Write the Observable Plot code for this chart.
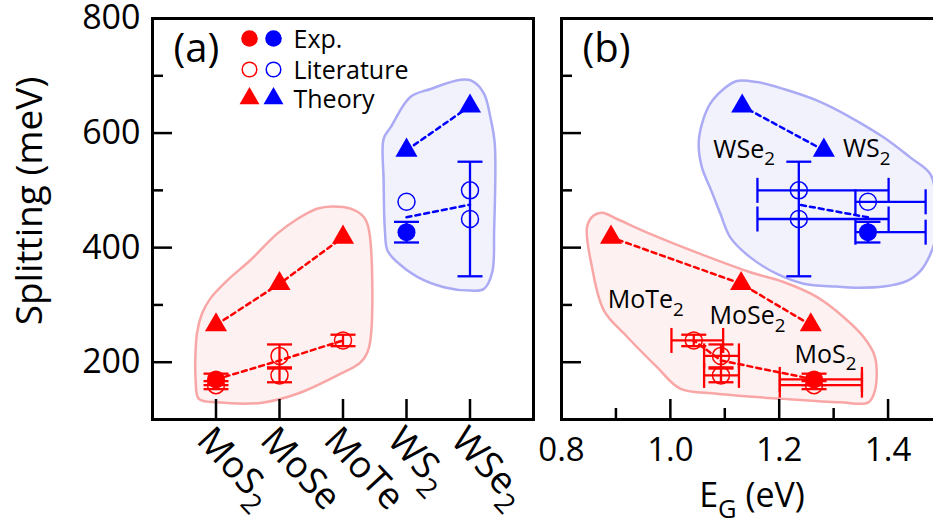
<!DOCTYPE html>
<html>
<head>
<meta charset="utf-8">
<script src="https://cdn.jsdelivr.net/npm/d3@7"></script>
<script src="https://cdn.jsdelivr.net/npm/@observablehq/plot@0.6"></script>
<style>
  html, body { margin: 0; padding: 0; background: #fff; }
  #fig { position: relative; width: 933px; height: 522px; overflow: hidden; font-family: "Open Sans", sans-serif; }
  #fig svg { position: absolute; left: 0; top: 0; }
</style>
</head>
<body>
<div id="fig"></div>
<script>
// Spin–orbit splitting of monolayer TMDs: (a) by compound, (b) against band gap E_G.

const compounds = ["MoS2", "MoSe2", "MoTe2", "WS2", "WSe2"];
const compoundTicks = ["MoS_2", "MoSe", "MoTe", "WS_2", "WSe_2"];

// Theory (triangles)
const theoryCompound = ["MoS2", "MoSe2", "MoTe2", "WS2", "WSe2"];
const theorySplitting = [265, 337, 418, 570, 647];
const theoryGap = [1.258, 1.130, 0.891, 1.282, 1.132];

// This work (filled circles)
const expCompound = ["MoS2", "WS2"];
const expSplitting = [170, 427];
const expError = [10, 18];
const expGap = [1.264, 1.363];
const expGapLow = [1.201, 1.340];
const expGapHigh = [1.352, 1.469];

// Literature (open circles)
const litCompound = ["MoS2", "MoSe2", "MoSe2", "MoTe2", "WS2", "WSe2", "WSe2"];
const litSplitting = [160, 211, 177, 238, 480, 500, 450];
const litError = [7, 20, 12, 10, 0, 0, 100];
const litGap = [1.264, 1.093, 1.093, 1.043, 1.363, 1.236, 1.236];
const litGapLow = [1.201, 1.062, 1.062, 1.002, 1.340, 1.160, 1.160];
const litGapHigh = [1.352, 1.126, 1.126, 1.097, 1.469, 1.401, 1.401];

// Dashed guide through the measured values
const trendCompound = ["MoS2", "MoSe2", "MoTe2", "WS2", "WSe2"];
const trendSplitting = [170, 203, 238, 453, 475];
const trendGap = [1.264, 1.093, 1.043, 1.363, 1.236];

// Compound labels in panel (b)
const gapLabelText = ["WSe_2", "WS_2", "MoTe_2", "MoSe_2", "MoS_2"];
const gapLabelX = [1.079, 1.317, 0.885, 1.072, 1.228];
const gapLabelY = [571, 572, 308, 280, 213];

// Shaded zones: [x, splitting]
const moZoneA = [[-0.22, 285], [-0.09, 311], [0.18, 343], [0.54, 378], [0.96, 424], [1.28, 450], [1.59, 468], [1.83, 472], [2.12, 468], [2.33, 453], [2.41, 430], [2.41, 226], [2.28, 200], [1.91, 177], [1.28, 145], [0.70, 129], [0.02, 130], [-0.27, 136], [-0.32, 168], [-0.30, 250]];
const wZoneA = [[2.64, 590], [2.75, 610], [3.06, 663], [3.38, 677], [3.85, 693], [4.03, 691], [4.22, 669], [4.32, 628], [4.39, 581], [4.38, 430], [4.35, 357], [4.22, 328], [4.01, 325], [3.59, 331], [3.17, 349], [2.85, 375], [2.70, 395], [2.66, 430], [2.64, 517]];
const moZoneB = [[0.859, 456], [0.875, 461], [0.902, 450], [0.963, 424], [1.055, 389], [1.147, 357], [1.208, 340], [1.269, 314], [1.318, 279], [1.355, 244], [1.376, 209], [1.376, 151], [1.364, 130], [1.312, 130], [1.208, 136], [1.086, 145], [1.018, 154], [0.976, 191], [0.921, 244], [0.878, 290], [0.856, 366], [0.847, 436]];
const wZoneB = [[1.122, 691], [1.159, 689], [1.208, 677], [1.269, 657], [1.330, 628], [1.391, 593], [1.440, 558], [1.478, 528], [1.488, 480], [1.488, 420], [1.476, 385], [1.460, 360], [1.435, 342], [1.392, 332], [1.340, 330], [1.306, 332], [1.245, 337], [1.196, 354], [1.147, 383], [1.110, 418], [1.092, 459], [1.075, 500], [1.058, 540], [1.052, 581], [1.058, 616], [1.073, 651], [1.098, 677]];

// Axis ticks
const splitLabels = [200, 400, 600, 800];
const splitMajor = [200, 400, 600];
const splitMinor = [300, 500, 700];
const gapLabels = [0.8, 1.0, 1.2, 1.4];
const gapMajor = [1.0, 1.2, 1.4];
const gapMinor = [0.9, 1.1, 1.3];

const RED = "#ff0000", BLUE = "#0000ff";
const colorOf = c => c.startsWith("Mo") ? RED : BLUE;
const zoneStyle = {
  Mo: {fill: "#fef1f1", stroke: "#f8a6a6"},
  W: {fill: "#f2f2fd", stroke: "#aaaaf5"}
};

const theory = theoryCompound.map((c, k) => ({c, i: compounds.indexOf(c), color: colorOf(c), v: theorySplitting[k], g: theoryGap[k]}));
const exp = expCompound.map((c, k) => ({c, i: compounds.indexOf(c), color: colorOf(c), v: expSplitting[k], err: expError[k], g: expGap[k], lo: expGapLow[k], hi: expGapHigh[k]}));
const lit = litCompound.map((c, k) => ({c, i: compounds.indexOf(c), color: colorOf(c), v: litSplitting[k], err: litError[k], g: litGap[k], lo: litGapLow[k], hi: litGapHigh[k]}));
const trend = trendCompound.map((c, k) => ({c, i: compounds.indexOf(c), color: colorOf(c), v: trendSplitting[k], g: trendGap[k]}));
const gapLabelRows = gapLabelText.map((t, k) => ({t, g: gapLabelX[k], v: gapLabelY[k]}));

// Error-bar caps as pixel-sized line symbols
const hCap = {draw(ctx, size) { const w = Math.sqrt(size / Math.PI); ctx.moveTo(-w, 0); ctx.lineTo(w, 0); }};
const vCap = {draw(ctx, size) { const w = Math.sqrt(size / Math.PI); ctx.moveTo(0, -w); ctx.lineTo(0, w); }};

const H = 522, frameTop = 18, frameBottom = 419;
const frameW = 381, frameH = frameBottom - frameTop;
const barWidth = 2.3, capR = 12.5, dotR = 9;

function zone(points, style) {
  return Plot.line(points, {x: d => d[0], y: d => d[1], curve: "catmull-rom-closed", fill: style.fill, stroke: style.stroke, strokeWidth: 2.5});
}

function dataMarks(xKey, withGapBars) {
  const withErr = [...exp, ...lit].filter(d => d.err > 0);
  const all = [...exp, ...lit];
  const marks = [
    Plot.line(theory, {x: xKey, y: "v", stroke: "color", strokeWidth: 2.5, strokeDasharray: "5,4"}),
    Plot.line(trend, {x: xKey, y: "v", stroke: "color", strokeWidth: 2.5, strokeDasharray: "5,4"}),
    Plot.ruleX(withErr, {x: xKey, y1: d => d.v - d.err, y2: d => d.v + d.err, stroke: "color", strokeWidth: barWidth}),
    Plot.dot(withErr, {x: xKey, y: d => d.v - d.err, symbol: hCap, r: capR, fill: "none", stroke: "color", strokeWidth: barWidth}),
    Plot.dot(withErr, {x: xKey, y: d => d.v + d.err, symbol: hCap, r: capR, fill: "none", stroke: "color", strokeWidth: barWidth})
  ];
  if (withGapBars) {
    marks.push(
      Plot.ruleY(all, {y: "v", x1: "lo", x2: "hi", stroke: "color", strokeWidth: barWidth}),
      Plot.dot(all, {x: "lo", y: "v", symbol: vCap, r: capR, fill: "none", stroke: "color", strokeWidth: barWidth}),
      Plot.dot(all, {x: "hi", y: "v", symbol: vCap, r: capR, fill: "none", stroke: "color", strokeWidth: barWidth})
    );
  }
  marks.push(
    Plot.dot(lit, {x: xKey, y: "v", r: 8.5, fill: "none", stroke: "color", strokeWidth: 1.5}),
    Plot.dot(exp, {x: xKey, y: "v", r: dotR, fill: "color", stroke: "none"}),
    Plot.dot(theory, {x: xKey, y: "v", symbol: "triangle", r: 8.2, fill: "color", stroke: "none"})
  );
  return marks;
}

function splitTicks() {
  return [
    Plot.tickY(splitMajor, {y: d => d, insetRight: frameW - 20, strokeWidth: 2.5}),
    Plot.tickY(splitMinor, {y: d => d, insetRight: frameW - 11, strokeWidth: 2.5})
  ];
}

// Legend rows of panel (a)
const legendLabels = ["Exp.", "Literature", "Theory"];
const legendDy = [20, 51, 80];
const legendSymbol = [
  c => ({r: 8.3, fill: c, stroke: "none"}),
  c => ({r: 7.3, fill: "none", stroke: c, strokeWidth: 1.5}),
  c => ({symbol: "triangle", r: 7.4, fill: c, stroke: "none"})
];
const legendMarks = legendLabels.flatMap((label, k) => [
  Plot.dot([label], {frameAnchor: "top-left", dx: 97, dy: legendDy[k], ...legendSymbol[k](RED)}),
  Plot.dot([label], {frameAnchor: "top-left", dx: 121, dy: legendDy[k], ...legendSymbol[k](BLUE)}),
  Plot.text([label], {frameAnchor: "top-left", dx: 141, dy: legendDy[k] + 1, textAnchor: "start", lineAnchor: "middle", fontSize: 25, fill: "black"})
]);

// Turns "X_2" into X with a lowered, smaller 2
function subscripts(svg) {
  d3.select(svg).selectAll("text").each(function () {
    const t = this.textContent;
    if (!t.includes("_")) return;
    const parts = t.split(/_(.)/);
    const sel = d3.select(this);
    sel.text(null);
    let shifted = false;
    parts.forEach((p, k) => {
      if (k % 2) {
        sel.append("tspan").attr("font-size", "75%").attr("dy", "0.4em").text(p);
        shifted = true;
      } else if (p) {
        const s = sel.append("tspan").text(p);
        if (shifted) { s.attr("dy", "-0.3em"); shifted = false; }
      }
    });
  });
}

const baseStyle = {background: "transparent", maxWidth: "none", overflow: "visible", fontFamily: "'Open Sans', sans-serif", color: "black"};

const panelA = Plot.plot({
  width: 933, height: H,
  marginTop: frameTop, marginBottom: H - frameBottom, marginLeft: 152, marginRight: 933 - 152 - frameW,
  x: {domain: [-1, 5], axis: null},
  y: {domain: [100, 800], axis: null},
  color: {type: "identity"},
  style: baseStyle,
  marks: [
    zone(moZoneA, zoneStyle.Mo),
    zone(wZoneA, zoneStyle.W),
    ...dataMarks("i", false),
    Plot.frame({stroke: "black", strokeWidth: 3}),
    ...splitTicks(),
    Plot.tickX([0, 1, 2, 3, 4], {x: d => d, insetTop: frameH - 20, strokeWidth: 2.5}),
    Plot.axisY({ticks: splitLabels, tickSize: 0, tickPadding: 12, fontSize: 34, label: null}),
    Plot.axisX({ticks: [0, 1, 2, 3, 4], tickFormat: i => compoundTicks[i], tickSize: 0, tickPadding: 14, tickRotate: 47, textAnchor: "start", dx: -12, fontSize: 37, label: null}),
    Plot.text(["Splitting (meV)"], {frameAnchor: "left", rotate: -90, dx: -122, dy: -18, textAnchor: "middle", lineAnchor: "middle", fontSize: 37, fill: "black"}),
    Plot.text(["(a)"], {frameAnchor: "top-left", dx: 21, dy: 31, textAnchor: "start", lineAnchor: "middle", fontSize: 40, fill: "black"}),
    ...legendMarks
  ]
});

const panelB = Plot.plot({
  width: 561 + frameW, height: H,
  marginTop: frameTop, marginBottom: H - frameBottom, marginLeft: 561, marginRight: 0,
  x: {domain: [0.8, 1.5], axis: null},
  y: {domain: [100, 800], axis: null},
  color: {type: "identity"},
  style: baseStyle,
  marks: [
    zone(moZoneB, zoneStyle.Mo),
    zone(wZoneB, zoneStyle.W),
    ...dataMarks("g", true),
    Plot.text(gapLabelRows, {x: "g", y: "v", text: "t", textAnchor: "start", lineAnchor: "middle", fontSize: 25, fill: "black"}),
    Plot.frame({stroke: "black", strokeWidth: 3}),
    ...splitTicks(),
    Plot.tickX(gapMajor, {x: d => d, insetTop: frameH - 20, strokeWidth: 2.5}),
    Plot.tickX(gapMinor, {x: d => d, insetTop: frameH - 11, strokeWidth: 2.5}),
    Plot.axisX({ticks: gapLabels, tickFormat: d3.format(".1f"), tickSize: 0, tickPadding: 18, fontSize: 33, label: null}),
    Plot.text(["E_G (eV)"], {frameAnchor: "bottom", dy: 77, textAnchor: "middle", lineAnchor: "middle", fontSize: 34, fill: "black"}),
    Plot.text(["(b)"], {frameAnchor: "top-left", dx: 21, dy: 31, textAnchor: "start", lineAnchor: "middle", fontSize: 40, fill: "black"})
  ]
});

subscripts(panelA);
subscripts(panelB);
const fig = document.getElementById("fig");
fig.appendChild(panelA);
fig.appendChild(panelB);
</script>
</body>
</html>
